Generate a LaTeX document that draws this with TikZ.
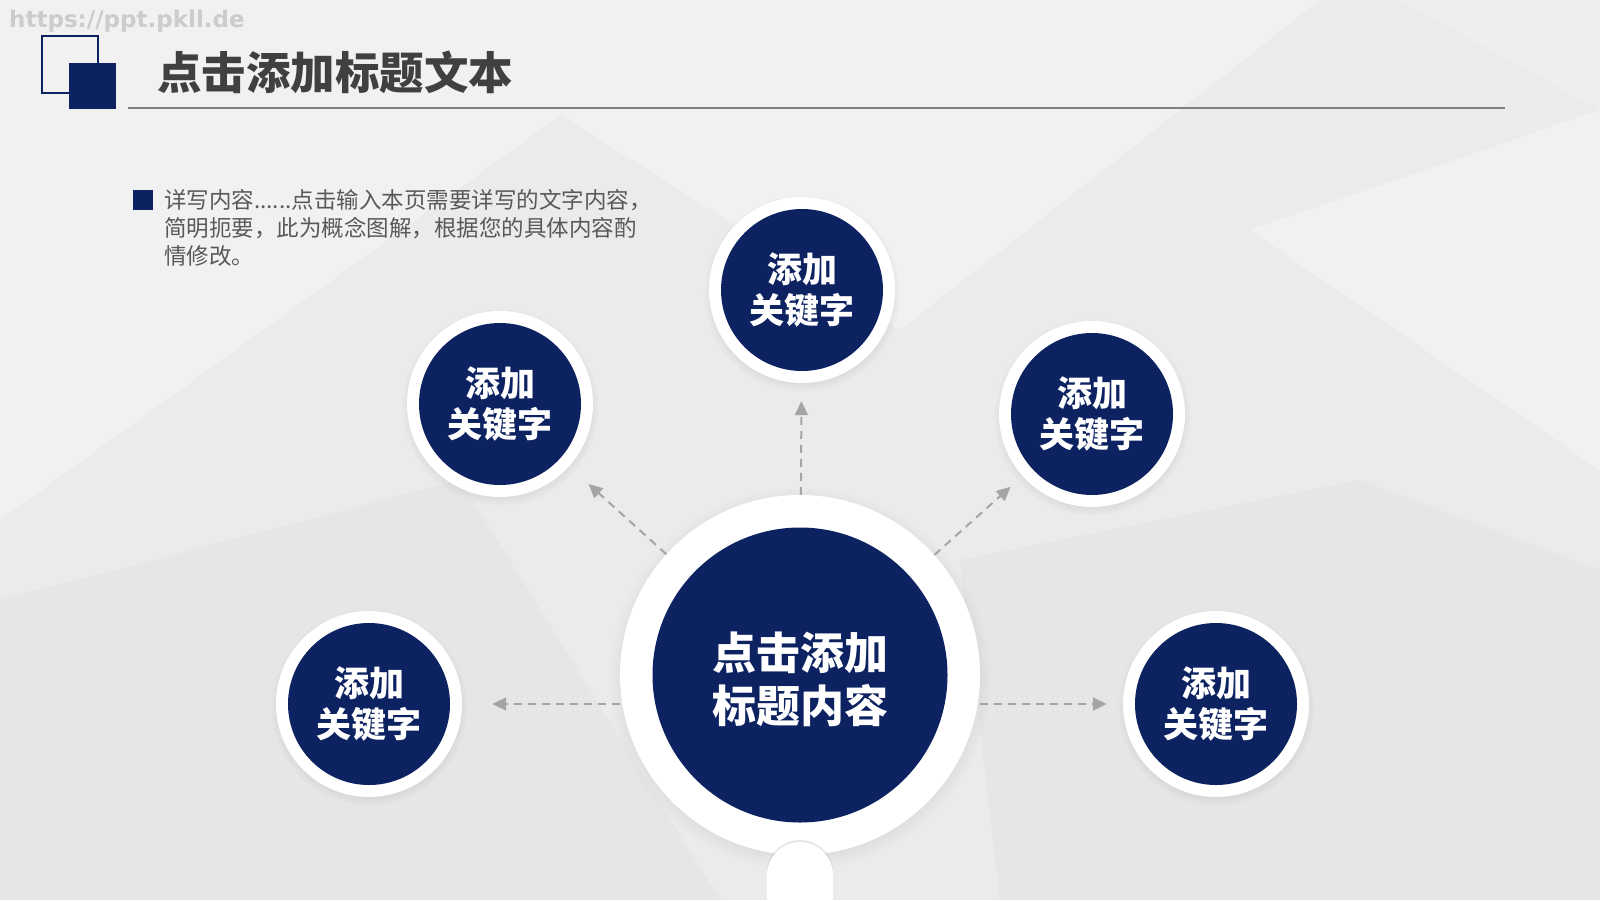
\documentclass[tikz,border=0pt]{standalone}
\usepackage{fontspec}
\usepackage{xcolor}
\usetikzlibrary{arrows.meta,shadows}
\newfontfamily\cjk{Noto Sans CJK SC}
\newfontfamily\wmfont{DejaVu Sans}

\definecolor{navy}{RGB}{13,35,97}
\definecolor{titlegray}{RGB}{64,64,64}
\definecolor{bodygray}{RGB}{89,89,89}
\definecolor{linkgray}{RGB}{165,165,165}
\definecolor{bgbase}{RGB}{235,235,237}
\definecolor{bglight}{RGB}{241,241,242}
\definecolor{bgdark}{RGB}{230,230,233}

\tikzset{
  ring/.style={circle, fill=white, inner sep=0pt, minimum size=#1,
    circular drop shadow={shadow scale=1.06, shadow xshift=0pt, shadow yshift=-3pt, opacity=0.22}},
  keyword/.style={circle, fill=navy, text=white, inner sep=0pt, minimum size=162pt, align=center,
    font=\cjk\bfseries\fontsize{35}{41}\selectfont},
  link/.style={draw=linkgray, line width=2pt, dash pattern=on 8pt off 6pt,
    -{Triangle[length=14pt,width=13pt]}},
}

\begin{document}
\begin{tikzpicture}[x=1pt, y=-1pt]
    \useasboundingbox (0,0) rectangle (1600,900);
    \clip (0,0) rectangle (1600,900);

    % Background facets
    \fill[bgbase] (0,0) rectangle (1600,900);
    \fill[bglight] (0,0) -- (720,0) -- (0,520) -- cycle;
    \fill[bglight] (380,0) -- (1320,0) -- (900,330) -- cycle;
    \fill[bglight] (1250,230) -- (1600,110) -- (1600,470) -- cycle;
    \fill[bgdark] (0,600) -- (460,480) -- (720,900) -- (0,900) -- cycle;
    \fill[bgdark] (960,560) -- (1360,480) -- (1600,570) -- (1600,900) -- (1000,900) -- cycle;
    \fill[bglight, opacity=0.6] (1400,0) -- (1600,0) -- (1600,110) -- cycle;

    % Watermark
    \node[anchor=west, inner sep=0pt, text={rgb,255:red,204;green,204;blue,204},
      font=\wmfont\bfseries\fontsize{23}{26}\selectfont] (mark) at (9,21) {https://ppt.pkll.de};

    % Title block
    \draw[navy, line width=1.5pt] (42,36) rectangle (98,93);
    \fill[navy] (69,63) rectangle (116,109);
    \node[anchor=west, inner sep=0pt, text=titlegray,
      font=\cjk\bfseries\fontsize{44.5}{50}\selectfont] (title) at (157,72) {点击添加标题文本};
    \draw[gray, line width=2pt] (128,108) -- (1505,108);

    % Description
    \fill[navy] (133,190) rectangle (153,210);
    \node[anchor=west, inner sep=0pt, align=left, text=bodygray,
      font=\cjk\fontsize{22.5}{28}\selectfont] (desc) at (164,228)
      {详写内容......点击输入本页需要详写的文字内容，\\
       简明扼要，此为概念图解，根据您的具体内容酌\\
       情修改。};

    % Center circle and stem
    \node[ring=360pt] (hub) at (800,675) {};
    \node[rectangle, fill=white, minimum width=66pt, minimum height=90pt, rounded corners=33pt,
      drop shadow={opacity=0.2, shadow xshift=0pt, shadow yshift=2pt}] (stem) at (800,887) {};
    \node[circle, fill=navy, inner sep=0pt, minimum size=295pt] (hubdisc) at (hub) {};
    \node[text=white, align=center, font=\cjk\bfseries\fontsize{44}{53}\selectfont]
      (hubkey) at (800,679) {点击添加\\标题内容};

    % Keyword circles
    \node[ring=186pt] (top) at (802,290) {};
    \node[keyword] (topkey) at (top) {添加\\关键字};
    \node[ring=186pt] (upleft) at (500,404) {};
    \node[keyword] (upleftkey) at (upleft) {添加\\关键字};
    \node[ring=186pt] (upright) at (1092,414) {};
    \node[keyword] (uprightkey) at (upright) {添加\\关键字};
    \node[ring=186pt] (lowleft) at (369,704) {};
    \node[keyword] (lowleftkey) at (lowleft) {添加\\关键字};
    \node[ring=186pt] (lowright) at (1216,704) {};
    \node[keyword] (lowrightkey) at (lowright) {添加\\关键字};

    % Dashed arrows
    \draw[link, shorten >=18pt] (hub) -- (top);
    \draw[link, shorten >=26pt] (hub) -- (upleft);
    \draw[link, shorten >=16pt] (hub) -- (upright);
    \draw[link, shorten >=30pt] (hub.west |- lowleft) -- (lowleft);
    \draw[link, shorten >=16pt] (hub.east |- lowright) -- (lowright);
\end{tikzpicture}
\end{document}
